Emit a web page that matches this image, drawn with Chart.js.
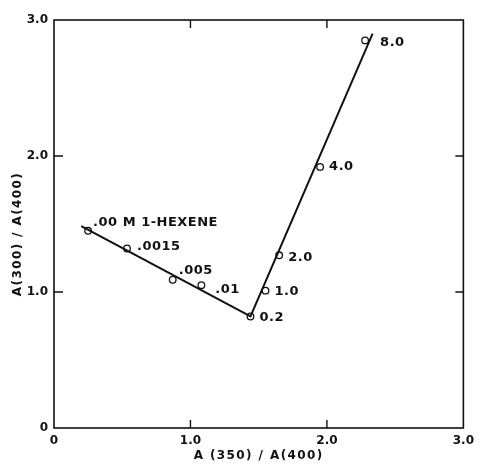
<!DOCTYPE html>
<html>
<head>
<meta charset="utf-8">
<script src="https://cdn.jsdelivr.net/npm/chart.js@4"></script>
<style>
  html, body { margin: 0; padding: 0; background: #fff; }
  #wrap { width: 480px; height: 464px; }
</style>
</head>
<body>
<div id="wrap"><canvas id="c" width="480" height="464"></canvas></div>
<script>
// Absorbance ratios measured at each 1-hexene concentration (M)
const concLabels = ['.00 M 1-HEXENE', '.0015', '.005', '.01', '0.2', '1.0', '2.0', '4.0', '8.0'];
const ratio350 = [0.25, 0.535, 0.87, 1.08, 1.44, 1.55, 1.65, 1.95, 2.28];
const ratio300 = [1.45, 1.32, 1.09, 1.05, 0.82, 1.01, 1.27, 1.92, 2.85];

// Hand-drawn trend: two straight segments meeting at the break point
const fitX = [0.20, 1.44, 2.335];
const fitY = [1.485, 0.82, 2.90];

// Axis ticks
const tickValues = [0, 1, 2, 3];
const tickText = ['0', '1.0', '2.0', '3.0'];

const points = ratio350.map((x, i) => ({ x, y: ratio300[i] }));
const fitLine = fitX.map((x, i) => ({ x, y: fitY[i] }));

// Where each concentration label sits relative to its marker (px)
const labelNudge = [
  [5, -8], [10, -2], [6, -9], [14, 4], [9, 1], [9, 1], [9, 2], [9, 0], [15, 2]
];

const INK = '#111';

const framePlugin = {
  id: 'frame',
  afterDraw(chart) {
    const { ctx, chartArea: a, scales: { x, y } } = chart;
    ctx.save();
    ctx.strokeStyle = INK;
    ctx.lineWidth = 1.6;
    ctx.strokeRect(a.left, a.top, a.right - a.left, a.bottom - a.top);
    // inward tick marks on all four sides
    ctx.lineWidth = 1.4;
    [1, 2].forEach(v => {
      const px = x.getPixelForValue(v);
      const py = y.getPixelForValue(v);
      ctx.beginPath();
      ctx.moveTo(px, a.bottom); ctx.lineTo(px, a.bottom - 8);
      ctx.moveTo(px, a.top); ctx.lineTo(px, a.top + 8);
      ctx.moveTo(a.left, py); ctx.lineTo(a.left + 9, py);
      ctx.moveTo(a.right, py); ctx.lineTo(a.right - 8, py);
      ctx.stroke();
    });

    // concentration labels beside each marker
    ctx.fillStyle = INK;
    ctx.font = 'bold 13px "DejaVu Sans"';
    ctx.letterSpacing = '0.5px';
    ctx.textAlign = 'left';
    ctx.textBaseline = 'middle';
    const meta = chart.getDatasetMeta(1);
    meta.data.forEach((el, i) => {
      const [dx, dy] = labelNudge[i];
      ctx.fillText(concLabels[i], el.x + dx, el.y + dy);
    });

    // axis titles
    ctx.font = 'bold 12px "DejaVu Sans"';
    ctx.letterSpacing = '1.4px';
    ctx.textAlign = 'center';
    ctx.fillText('A (350) / A(400)', (a.left + a.right) / 2, 456);
    ctx.translate(18, 234);
    ctx.rotate(-Math.PI / 2);
    ctx.fillText('A(300) / A(400)', 0, 0);
    ctx.restore();
  }
};

const tickFont = { family: '"DejaVu Sans"', size: 12, weight: 'bold' };
const fmt = v => {
  const i = tickValues.indexOf(v);
  return i >= 0 ? tickText[i] : '';
};

new Chart(document.getElementById('c'), {
  type: 'scatter',
  data: {
    datasets: [
      {
        data: fitLine,
        showLine: true,
        borderColor: INK,
        borderWidth: 2,
        pointRadius: 0,
        tension: 0
      },
      {
        data: points,
        showLine: false,
        pointRadius: 3.3,
        pointBorderWidth: 1.3,
        pointBorderColor: INK,
        pointBackgroundColor: '#fff'
      }
    ]
  },
  options: {
    responsive: false,
    animation: false,
    events: [],
    layout: { padding: { top: 20, right: 11, left: 0, bottom: 0 } },
    plugins: { legend: { display: false }, tooltip: { enabled: false } },
    scales: {
      x: {
        type: 'linear',
        min: 0, max: 3,
        afterFit(s) { s.height = 36; },
        afterBuildTicks(s) { s.ticks = tickValues.map(v => ({ value: v })); },
        grid: { display: false, drawTicks: false },
        border: { display: false },
        ticks: { color: INK, font: tickFont, padding: 6, maxRotation: 0, callback: fmt }
      },
      y: {
        type: 'linear',
        min: 0, max: 3,
        afterFit(s) { s.width = 54; },
        afterBuildTicks(s) { s.ticks = tickValues.map(v => ({ value: v })); },
        grid: { display: false, drawTicks: false },
        border: { display: false },
        ticks: { color: INK, font: tickFont, padding: 6, callback: fmt }
      }
    }
  },
  plugins: [framePlugin]
});
</script>
</body>
</html>
